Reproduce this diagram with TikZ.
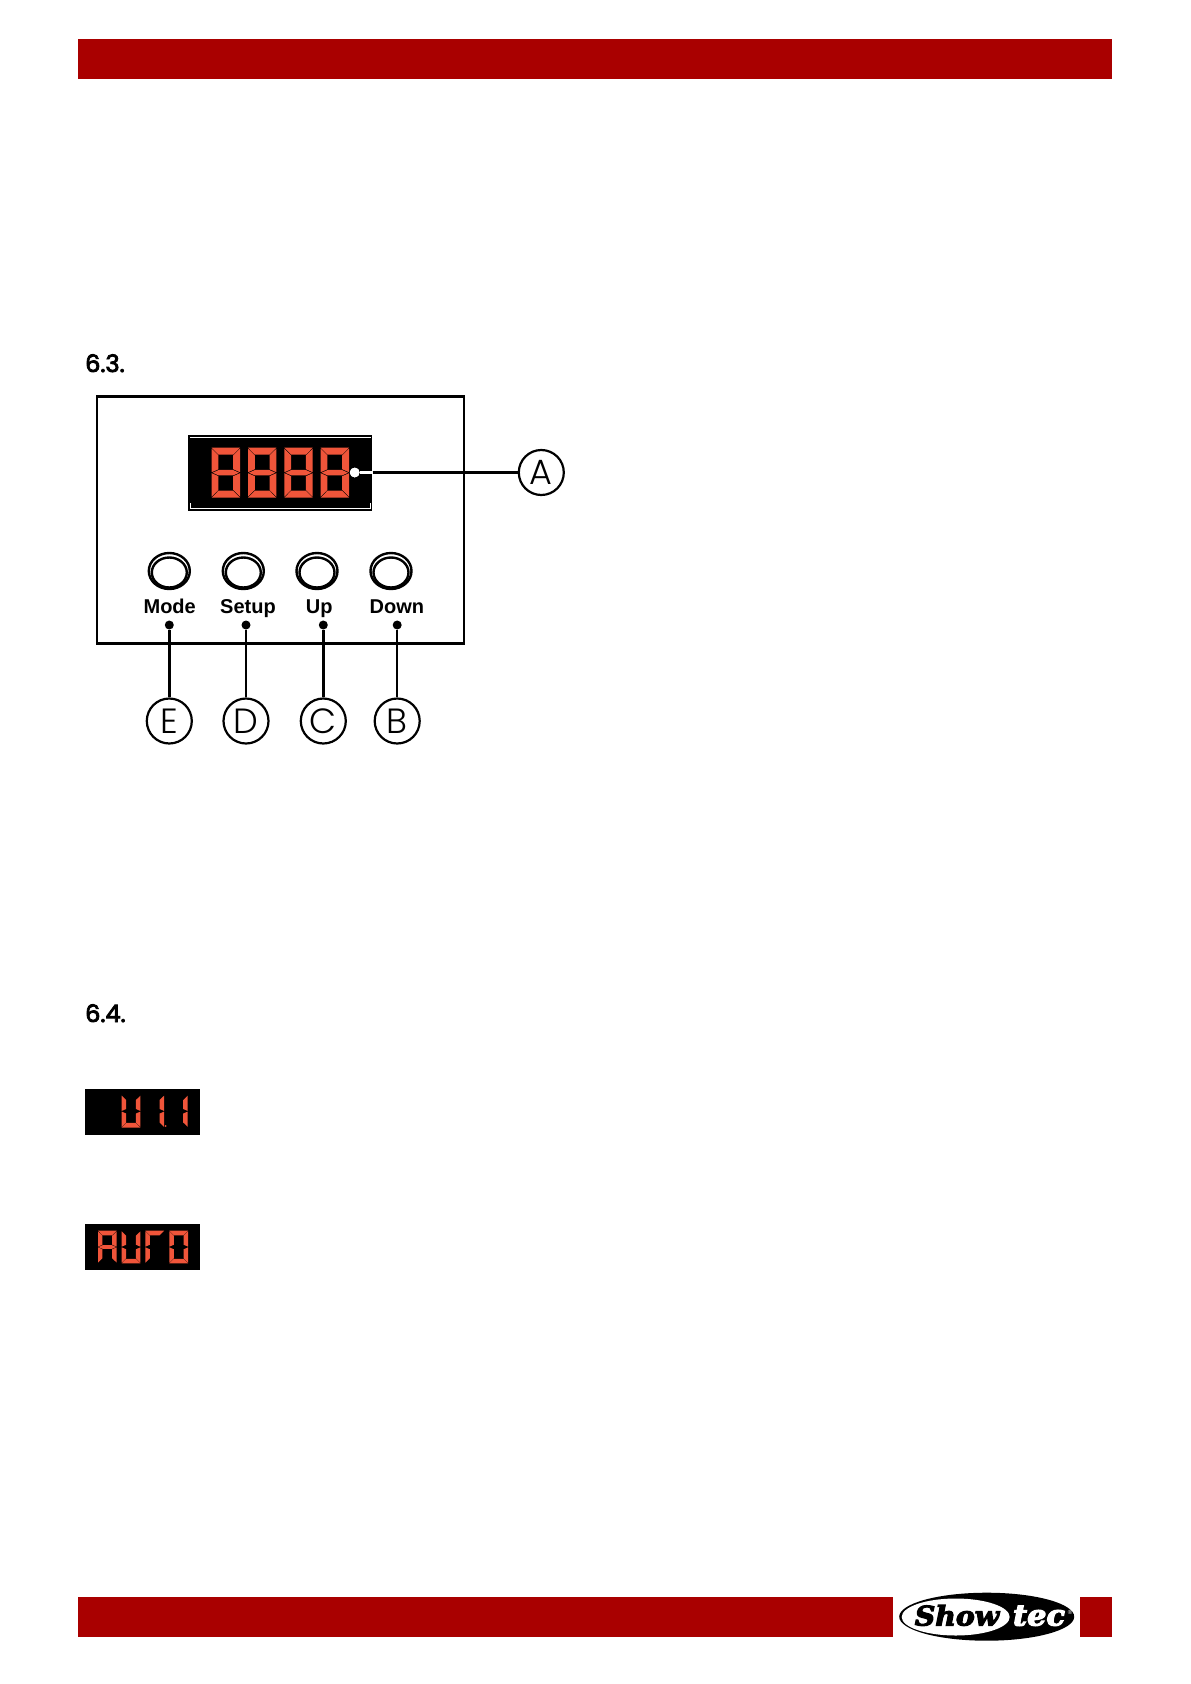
\documentclass[tikz,border=0pt]{standalone}
\usepackage{fontspec}
\setmainfont{Liberation Sans}
\newfontfamily\headfont{Poppins}[FakeBold=3.5]
\newfontfamily\letterfont{Poppins}[UprightFont=* Light]
\newfontfamily\logofont{DejaVu Serif}[FakeBold=4,FakeStretch=1.05]
\definecolor{barred}{HTML}{A90000}
\definecolor{segred}{HTML}{F0553A}
\tikzset{
  bar/.style={fill=barred,draw=none},
  panelbox/.style={draw=black,line width=2.5pt,fill=white,minimum width=367pt,minimum height=247pt,inner sep=0pt},
  dispbox/.style={fill=black,draw=none,inner sep=0pt},
  wire/.style={draw=black,line width=2.4pt},
  lightwire/.style={draw=white,line width=2.4pt},
  blackdot/.style={circle,fill=black,draw=none,minimum size=9pt,inner sep=0pt},
  whitedot/.style={circle,fill=white,draw=none,minimum size=9.5pt,inner sep=0pt},
  callout/.style={circle,draw=black,line width=2.2pt,fill=white,minimum size=45pt,inner sep=0pt,font=\letterfont\fontsize{35}{35}\selectfont},
  btnlabel/.style={font=\bfseries\fontsize{20}{20}\selectfont,inner sep=0pt,anchor=base},
  heading/.style={font=\headfont\fontsize{24}{24}\selectfont,inner sep=0pt,anchor=base west},
  btnouter/.style={ellipse,draw=black,line width=2.4pt,minimum width=41pt,minimum height=36pt,inner sep=0pt},
  btninner/.style={ellipse,draw=black,line width=2.4pt,minimum width=35pt,minimum height=30pt,inner sep=0pt},
  seg/.style={fill=segred,draw=none},
}
\usetikzlibrary{shapes.geometric}
\def\segA{\fill[seg] (0,0)--(1,0)--(.76,.14)--(.24,.14)--cycle;}
\def\segD{\fill[seg] (0,1)--(1,1)--(.76,.86)--(.24,.86)--cycle;}
\def\segF{\fill[seg] (0,.02)--(.24,.155)--(.24,.43)--(0,.49)--cycle;}
\def\segB{\fill[seg] (1,.02)--(.76,.155)--(.76,.43)--(1,.49)--cycle;}
\def\segE{\fill[seg] (0,.51)--(.24,.57)--(.24,.845)--(0,.98)--cycle;}
\def\segC{\fill[seg] (1,.51)--(.76,.57)--(.76,.845)--(1,.98)--cycle;}
\def\segG{\fill[seg] (.03,.5)--(.25,.445)--(.75,.445)--(.97,.5)--(.75,.555)--(.25,.555)--cycle;}
\newcommand\sevenseg[5]{%
  \begin{scope}[shift={(#1,#2)},x=#3pt,y=-#4pt]
    \foreach \s in {#5} {\csname seg\s\endcsname}
  \end{scope}}
\begin{document}
\begin{tikzpicture}[x=1pt,y=-1pt]
\useasboundingbox (0,0) rectangle (1191,1684);
\fill[white] (0,0) rectangle (1191,1684);
% bars
\fill[bar] (78,39) rectangle (1112,79);
\fill[bar] (78,1597) rectangle (892.7,1637);
\fill[bar] (1080,1597) rectangle (1112,1637);
% headings
\node[heading] (h63) at (85,372) {6.3.};
\node[heading] (h64) at (85,1022) {6.4.};
% panel
\node[panelbox] (panel) at (280.5,519.8) {};
\node[dispbox,minimum width=184pt,minimum height=76pt] (disp) at (280.3,473) {};
\draw[white,line width=.8pt] (190,437.2) -- (370.8,437.2);
\draw[white,line width=.8pt] (190,508.2) -- (370.8,508.2);
\draw[white,line width=.6pt] (190.5,503) -- (190.5,508) (370.4,503) -- (370.4,508);
\foreach \x in {211.7,248,284.4,320.7}
  \sevenseg{\x}{447.7}{28.3}{50}{A,B,C,D,E,F,G}
\node[whitedot] (dotA) at (354.7,472.5) {};
\node[callout] (A) at (541.3,472.5) {A};
\coordinate (edgeA) at (disp.east |- dotA);
\draw[lightwire] (dotA) -- (edgeA);
\draw[wire] (edgeA) -- (A);
% buttons
\foreach \n/\x in {m/169.3,s/243.3,u/317,d/391}{
  \node[btnouter] (btn\n) at (\x,571) {};
  \node[btninner] (btni\n) at (\x,572.5) {};
}
\node[btnlabel] (lm) at (169.7,613.3) {Mode};
\node[btnlabel] (ls) at (248,613.3) {Setup};
\node[btnlabel] (lu) at (319.3,613.3) {Up};
\node[btnlabel] (ld) at (396.9,613.3) {Down};
% callouts
\foreach \n/\x/\t in {E/169.3/E,D/246/D,C/323.3/C,B/397.2/B}{
  \node[blackdot] (dot\n) at (\x,625) {};
  \node[callout] (\n) at (\x,721) {\t};
  \draw[wire] (dot\n) -- (\n);
}
% small displays
\node[dispbox,minimum width=115pt,minimum height=45.7pt] (d1) at (142.5,1111.8) {};
\sevenseg{121.7}{1095}{18.7}{32.5}{B,C,D,E,F}
\sevenseg{145.4}{1095}{18.7}{32.5}{B,C}
\sevenseg{169}{1095}{18.7}{32.5}{B,C}
\node[circle,fill=segred,minimum size=2pt,inner sep=0pt] (pt) at (165.7,1126) {};
\node[dispbox,minimum width=115pt,minimum height=46pt] (d2) at (142.5,1247) {};
\sevenseg{98}{1230.7}{18.7}{32.6}{A,B,C,E,F,G}
\sevenseg{121.7}{1230.7}{18.7}{32.6}{B,C,D,E,F}
\sevenseg{145.4}{1230.7}{18.7}{32.6}{A,E,F}
\sevenseg{169.4}{1230.7}{18.7}{32.6}{A,B,C,D,E,F}
% logo
\node[ellipse,fill=black,minimum width=175pt,minimum height=48pt,inner sep=0pt] (logo) at (986.7,1616.7) {};
\node[ellipse,fill=white,minimum width=108pt,minimum height=37pt,inner sep=0pt] (logow) at (955.7,1617) {};
\node[inner sep=0pt,anchor=base,font=\logofont\bfseries\itshape\fontsize{27}{27}\selectfont,text=black] (show) at (957,1625.5) {Show};
\node[inner sep=0pt,anchor=base,font=\logofont\bfseries\itshape\fontsize{29}{27}\selectfont,text=white] (tec) at (1039,1625.5) {tec};
\node[inner sep=0pt,font=\fontsize{6}{6}\selectfont,text=white] (reg) at (1070,1612) {®};
\end{tikzpicture}
\end{document}
